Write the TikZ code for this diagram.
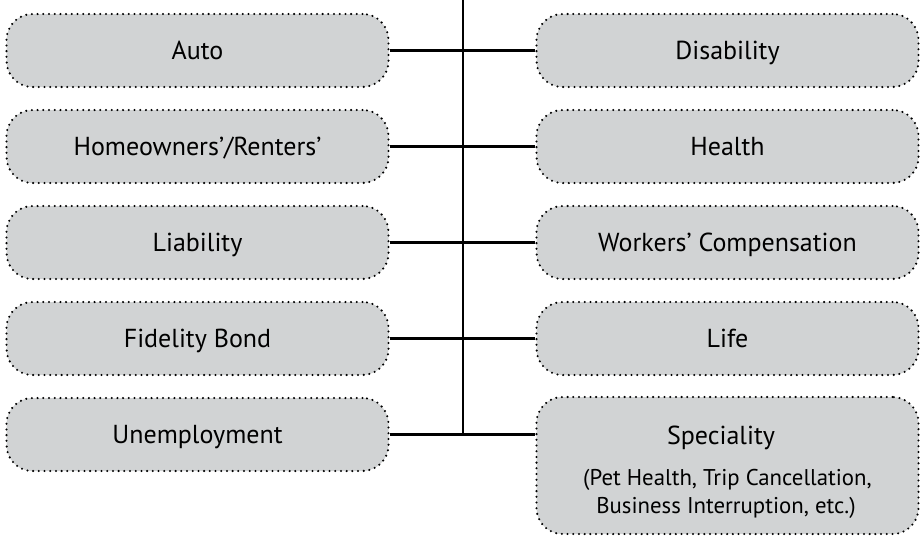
\documentclass[tikz,border=0pt]{standalone}
\usepackage{fontspec}
\setmainfont{PT Sans}
\definecolor{boxgray}{HTML}{D1D3D4}
\begin{document}
\begin{tikzpicture}[x=1pt,y=-1pt,
  ibox/.style={draw=black, fill=boxgray, rounded corners=26pt, line width=2.3pt,
    dash pattern=on 0pt off 5.7pt, line cap=round,
    minimum width=382pt, minimum height=73pt, inner sep=0pt,
    font=\fontsize{26}{30}\selectfont, text height=18.2pt, text depth=0pt},
  txt/.style={inner sep=0pt, font=\fontsize{26}{30}\selectfont, text height=18.2pt, text depth=0pt},
  subtxt/.style={inner sep=0pt, font=\fontsize{22.8}{27}\selectfont, text height=16pt, text depth=0pt},
  conn/.style={line width=2.2pt}]
\useasboundingbox (0,0) rectangle (923,536);
\node[ibox] (l1) at (197.5,50.5) {Auto};
\node[ibox] (l2) at (197.5,146.5) {Homeowners’/Renters’};
\node[ibox] (l3) at (197.5,242.5) {Liability};
\node[ibox] (l4) at (197.5,338.5) {Fidelity Bond};
\node[ibox] (l5) at (197.5,434.5) {Unemployment};
\node[ibox] (r1) at (727.5,50.5) {Disability};
\node[ibox] (r2) at (727.5,146.5) {Health};
\node[ibox] (r3) at (727.5,242.5) {Workers’ Compensation};
\node[ibox] (r4) at (727.5,338.5) {Life};
\node[ibox, minimum height=137pt] (r5) at (727.5,465.5) {};
\node[txt] (r5t) at (721,435.5) {Speciality};
\node[subtxt] (r5a) at (727.5,477) {(Pet Health, Trip Cancellation,};
\node[subtxt] (r5b) at (726,505) {Business Interruption, etc.)};
\coordinate (top) at (463,0);
\coordinate (bot) at (463,434.5);
\draw[conn] (top) -- (bot);
\draw[conn] (l1.east) -- (r1.west);
\draw[conn] (l2.east) -- (r2.west);
\draw[conn] (l3.east) -- (r3.west);
\draw[conn] (l4.east) -- (r4.west);
\draw[conn] (l5.east) -- (l5.east -| r5.west);
\end{tikzpicture}
\end{document}
